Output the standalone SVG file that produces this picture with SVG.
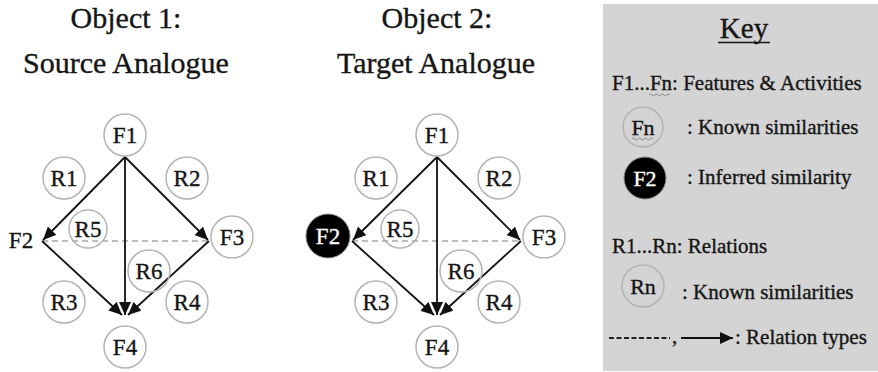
<svg xmlns="http://www.w3.org/2000/svg" width="878" height="372" viewBox="0 0 878 372">
<style>
text{font-family:"Liberation Serif","Times New Roman",serif;fill:#151515;stroke:#151515;stroke-width:0.35}
.t{font-size:30px;text-anchor:middle}
.n{font-size:23px;text-anchor:middle}
.k{font-size:21px}
.c{fill:none;stroke:#b4b4b4;stroke-width:1.5}
.b{fill:#000;stroke:#888;stroke-width:1}
text.w{fill:#fff;stroke:#fff}
.e{stroke:#111;stroke-width:1.8;fill:none;marker-end:url(#ah)}
.d{stroke:#a8a8a8;stroke-width:1.6;stroke-dasharray:6 4;fill:none}
.sq{fill:none;stroke:#777;stroke-width:0.8}
</style>
<defs>
<marker id="ah" markerUnits="userSpaceOnUse" markerWidth="14" markerHeight="12" refX="13" refY="6" orient="auto">
<path d="M0,0 L13,6 L0,12 z" fill="#111"/>
</marker>
</defs>
<rect width="878" height="372" fill="#fff"/>

<g id="title1"><text class="t" x="126" y="28">Object 1:</text><text class="t" x="126" y="73">Source Analogue</text></g>
<g id="title2"><text class="t" x="437" y="28">Object 2:</text><text class="t" x="436" y="73">Target Analogue</text></g>

<g id="connectors">
<line class="d" x1="42" y1="241" x2="209" y2="241"/>
<line class="e" x1="125" y1="157" x2="43" y2="240"/>
<line class="e" x1="125" y1="157" x2="208" y2="240"/>
<line class="e" x1="125" y1="157" x2="125" y2="315"/>
<line class="e" x1="42" y1="241" x2="122" y2="315"/>
<line class="e" x1="209" y1="241" x2="128" y2="315"/>

<line class="d" x1="352" y1="241" x2="521" y2="241"/>
<line class="e" x1="437" y1="157" x2="353" y2="240"/>
<line class="e" x1="437" y1="157" x2="520" y2="240"/>
<line class="e" x1="437" y1="157" x2="437" y2="315"/>
<line class="e" x1="352" y1="241" x2="434" y2="315"/>
<line class="e" x1="521" y1="241" x2="440" y2="315"/>
</g>

<g id="L-F1"><circle class="c" cx="125" cy="135" r="21"/><text class="n" x="125" y="143">F1</text></g>
<g id="L-F2"><text class="n" x="21" y="248">F2</text></g>
<g id="L-F3"><circle class="c" cx="232" cy="237" r="21"/><text class="n" x="232" y="245">F3</text></g>
<g id="L-F4"><circle class="c" cx="125" cy="347" r="21"/><text class="n" x="125" y="355">F4</text></g>
<g id="L-R1"><circle class="c" cx="64" cy="178" r="21"/><text class="n" x="64" y="186">R1</text></g>
<g id="L-R2"><circle class="c" cx="187" cy="178" r="21"/><text class="n" x="187" y="186">R2</text></g>
<g id="L-R5"><circle class="c" cx="88" cy="229" r="19"/><text class="n" x="88" y="237">R5</text></g>
<g id="L-R6"><circle class="c" cx="149" cy="271" r="21"/><text class="n" x="149" y="279">R6</text></g>
<g id="L-R3"><circle class="c" cx="64" cy="302" r="21"/><text class="n" x="64" y="310">R3</text></g>
<g id="L-R4"><circle class="c" cx="187" cy="302" r="21"/><text class="n" x="187" y="310">R4</text></g>

<g id="R-F1"><circle class="c" cx="437" cy="135" r="21"/><text class="n" x="437" y="143">F1</text></g>
<g id="R-F2"><circle class="b" cx="328" cy="236" r="22"/><text class="n w" x="328" y="244">F2</text></g>
<g id="R-F3"><circle class="c" cx="544" cy="237" r="21"/><text class="n" x="544" y="245">F3</text></g>
<g id="R-F4"><circle class="c" cx="437" cy="347" r="21"/><text class="n" x="437" y="355">F4</text></g>
<g id="R-R1"><circle class="c" cx="376" cy="178" r="21"/><text class="n" x="376" y="186">R1</text></g>
<g id="R-R2"><circle class="c" cx="499" cy="178" r="21"/><text class="n" x="499" y="186">R2</text></g>
<g id="R-R5"><circle class="c" cx="400" cy="229" r="19"/><text class="n" x="400" y="237">R5</text></g>
<g id="R-R6"><circle class="c" cx="461" cy="271" r="21"/><text class="n" x="461" y="279">R6</text></g>
<g id="R-R3"><circle class="c" cx="376" cy="302" r="21"/><text class="n" x="376" y="310">R3</text></g>
<g id="R-R4"><circle class="c" cx="499" cy="302" r="21"/><text class="n" x="499" y="310">R4</text></g>

<g id="key">
<rect x="603" y="4" width="275" height="367" fill="#d4d4d4"/>
<text x="744" y="38" style="font-size:29px;text-anchor:middle">Key</text>
<line x1="718" y1="42.5" x2="770" y2="42.5" stroke="#151515" stroke-width="1.3"/>
<text class="k" x="612" y="90">F1...Fn: Features &amp; Activities</text>
<path class="sq" d="M649,95 q1.5,-2 3,0 t3,0 t3,0 t3,0 t3,0 t3,0 t3,0"/>
<g id="key-fn"><circle class="c" cx="643" cy="127" r="20"/><text class="n" style="font-size:22px" x="643" y="135">Fn</text>
<path class="sq" d="M632,139 q1.5,-2 3,0 t3,0 t3,0 t3,0 t3,0 t3,0 t3,0"/></g>
<text class="k" x="687" y="134">: Known similarities</text>
<g id="key-f2"><circle class="b" cx="645" cy="178" r="21"/><text class="n w" style="font-size:22px" x="645" y="186">F2</text></g>
<text class="k" x="687" y="184">: Inferred similarity</text>
<text class="k" x="612" y="253">R1...Rn: Relations</text>
<g id="key-rn"><circle class="c" cx="643" cy="286" r="21"/><text class="n" style="font-size:22px" x="643" y="294">Rn</text></g>
<text class="k" x="682" y="299">: Known similarities</text>
<line x1="609" y1="338" x2="670" y2="338" stroke="#222" stroke-width="2" stroke-dasharray="5 2.5"/>
<text class="k" x="672" y="343">,</text>
<line x1="681" y1="338" x2="733" y2="338" stroke="#111" stroke-width="1.8" marker-end="url(#ah)"/>
<text class="k" x="735" y="344">: Relation types</text>
</g>
</svg>
